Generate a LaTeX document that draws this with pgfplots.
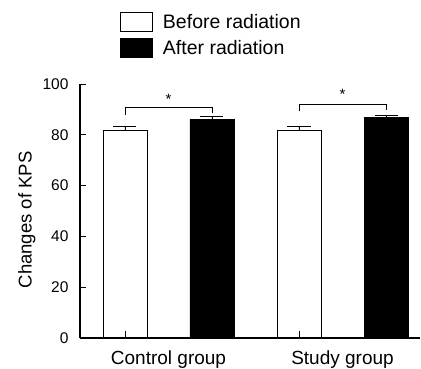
\documentclass[border=0pt]{standalone}
\usepackage{pgfplots}
\pgfplotsset{compat=1.18}
\usepackage{fontspec}
\setmainfont{Liberation Sans}
\begin{document}
\begin{tikzpicture}
\useasboundingbox (-80pt,-31pt) rectangle (341pt,338pt);
\begin{axis}[
  scale only axis,
  width=340pt, height=254pt,
  xmin=0, xmax=340, ymin=0, ymax=100,
  axis on top,
  axis x line=bottom, axis y line=left,
  axis line style={-, line width=1.1pt},
  ytick={0,20,40,60,80,100},
  xtick={45,132,219,306},
  xticklabels={},
  extra x ticks={88.5,262.5},
  extra x tick labels={Control group, Study group},
  extra x tick style={major tick length=0pt, tick label style={yshift=-9pt, font=\fontsize{19}{22}\selectfont}},
  tick align=inside,
  major tick length=6.5pt,
  tick style={black, line width=0.9pt},
  /pgf/number format/assume math mode=true,
  yticklabel style={font=\fontsize{15.5}{18}\selectfont, anchor=east, xshift=-8pt},
  ylabel={Changes of KPS},
  ylabel style={font=\fontsize{18.5}{21}\selectfont, at={(axis description cs:-0.156,0.465)}, anchor=center},
  legend style={draw=none, fill=none, at={(rel axis cs:0.1176,1.283)}, anchor=north west,
    inner sep=0pt, font=\fontsize{19.5}{22}\selectfont, row sep=6pt,
    cells={anchor=west}},
  legend image code/.code={\draw[#1, line width=0.8pt] (0pt,-9.5pt) rectangle (32pt,9.5pt);},
  legend cell align=left,
  clip=false,
]
\addplot[ybar, bar width=44, bar shift=0pt, draw=black, line width=0.9pt, fill=white,
  error bars/.cd, y dir=plus, y explicit,
  error bar style={black, line width=0.9pt},
  error mark options={black, mark size=11.5pt, rotate=90, line width=0.9pt}]
  coordinates {(45,81.6) +- (0,1.7) (219,81.6) +- (0,1.5)};
\addlegendentry{\hspace{8pt}Before radiation}
\addplot[ybar, bar width=44, bar shift=0pt, draw=black, line width=0.9pt, fill=black,
  error bars/.cd, y dir=plus, y explicit,
  error bar style={black, line width=0.9pt},
  error mark options={black, mark size=11.5pt, rotate=90, line width=0.9pt}]
  coordinates {(132,86.1) +- (0,1.2) (306,87.0) +- (0,0.8)};
\addlegendentry{\hspace{8pt}After radiation}
\addplot[black, line width=0.8pt, forget plot] coordinates {(45,87.9) (45,90.6) (132,90.6) (132,88.5)};
\addplot[black, line width=0.8pt, forget plot] coordinates {(219,89.2) (219,92.1) (306,92.1) (306,89.9)};
\node[font=\fontsize{15}{16}\selectfont] at (axis cs:88.5,94.0) {*};
\node[font=\fontsize{15}{16}\selectfont] at (axis cs:262.5,95.8) {*};
\end{axis}
\end{tikzpicture}
\end{document}
